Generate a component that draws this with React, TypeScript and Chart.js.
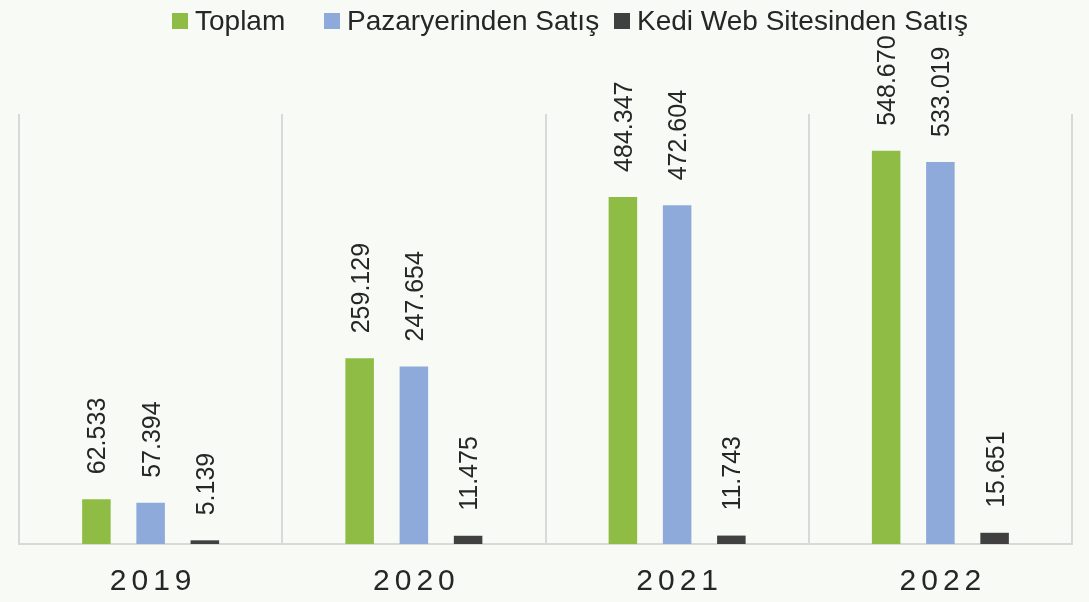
import React, { useEffect, useRef } from "react";
import { Chart, registerables } from "chart.js";

Chart.register(...registerables);

const years = ["2019", "2020", "2021", "2022"];
const seriesNames = ["Toplam", "Pazaryerinden Satış", "Kedi Web Sitesinden Satış"];
const toplam = [62533, 259129, 484347, 548670];
const pazaryeri = [57394, 247654, 472604, 533019];
const kediWeb = [5139, 11475, 11743, 15651];

const colors = ["#8fbc45", "#8eaadb", "#404040"];
const FONT = "'Liberation Sans', Arial, sans-serif";
const TEXT = "#262626";
const BG = "#f8faf5";
const GRID = "#d9d9d9";

const fmt = (v: number) => String(v).replace(/\B(?=(\d{3})+(?!\d))/g, ".");

const bgPlugin = {
  id: "bg",
  beforeDraw(chart: any) {
    const ctx = chart.ctx;
    ctx.save();
    ctx.fillStyle = BG;
    ctx.fillRect(0, 0, chart.width, chart.height);
    ctx.restore();
  },
};

const labelPlugin = {
  id: "valueLabels",
  afterDatasetsDraw(chart: any) {
    const ctx = chart.ctx;
    ctx.save();
    ctx.font = `25px ${FONT}`;
    ctx.fillStyle = TEXT;
    ctx.textAlign = "left";
    ctx.textBaseline = "alphabetic";
    const capH = 25 * 0.716;
    chart.data.datasets.forEach((ds: any, di: number) => {
      const meta = chart.getDatasetMeta(di);
      meta.data.forEach((bar: any, i: number) => {
        const v = ds.data[i];
        ctx.save();
        ctx.translate(bar.x, bar.y - 25);
        ctx.rotate(-Math.PI / 2);
        ctx.fillText(fmt(v), 0, capH / 2);
        ctx.restore();
      });
    });
    ctx.restore();
  },
};

const xLabelPlugin = {
  id: "xLabels",
  afterDraw(chart: any) {
    const ctx = chart.ctx;
    const xs = chart.scales.x;
    ctx.save();
    ctx.font = `30px ${FONT}`;
    ctx.fillStyle = TEXT;
    ctx.textAlign = "left";
    ctx.textBaseline = "alphabetic";
    const spacing = 5;
    chart.data.labels.forEach((lab: string, i: number) => {
      const cx = xs.getPixelForValue(i);
      const chars = lab.split("");
      const widths = chars.map((c) => ctx.measureText(c).width);
      const total = widths.reduce((a, b) => a + b, 0) + spacing * (chars.length - 1);
      let x = cx - total / 2;
      chars.forEach((c, k) => {
        ctx.fillText(c, x, 590);
        x += widths[k] + spacing;
      });
    });
    ctx.restore();
  },
};

const legendPlugin = {
  id: "customLegend",
  afterDraw(chart: any) {
    const ctx = chart.ctx;
    const starts = [172, 324, 614];
    ctx.save();
    ctx.font = `28px ${FONT}`;
    ctx.textBaseline = "alphabetic";
    ctx.textAlign = "left";
    seriesNames.forEach((name, i) => {
      const x = starts[i];
      ctx.fillStyle = colors[i];
      ctx.fillRect(x, 13, 16, 16);
      ctx.fillStyle = TEXT;
      ctx.fillText(name, x + 23, 29.5);
    });
    ctx.restore();
  },
};

export default function App() {
  const ref = useRef<HTMLCanvasElement | null>(null);
  useEffect(() => {
    if (!ref.current) return;
    const chart = new Chart(ref.current, {
      type: "bar",
      data: {
        labels: years,
        datasets: [
          { label: seriesNames[0], data: toplam, backgroundColor: colors[0] },
          { label: seriesNames[1], data: pazaryeri, backgroundColor: colors[1] },
          { label: seriesNames[2], data: kediWeb, backgroundColor: colors[2] },
        ],
      },
      options: {
        responsive: false,
        animation: false,
        devicePixelRatio: 1,
        layout: { padding: { left: 19, right: 17, top: 114, bottom: 58 } },
        datasets: {
          bar: { barPercentage: 0.526, categoryPercentage: 0.618 },
        },
        plugins: {
          legend: { display: false },
          tooltip: { enabled: false },
        },
        scales: {
          x: {
            ticks: { display: false },
            grid: { color: GRID, lineWidth: 2, drawTicks: false, offset: true },
            border: { color: GRID, width: 2 },
          },
          y: { display: false, min: 0, max: 600000 },
        },
      },
      plugins: [bgPlugin, labelPlugin, xLabelPlugin, legendPlugin],
    });
    return () => chart.destroy();
  }, []);
  return (
    <div style={{ position: "absolute", left: 0, top: 0, width: 1089, height: 602 }}>
      <canvas ref={ref} width={1089} height={602} style={{ display: "block" }} />
    </div>
  );
}
